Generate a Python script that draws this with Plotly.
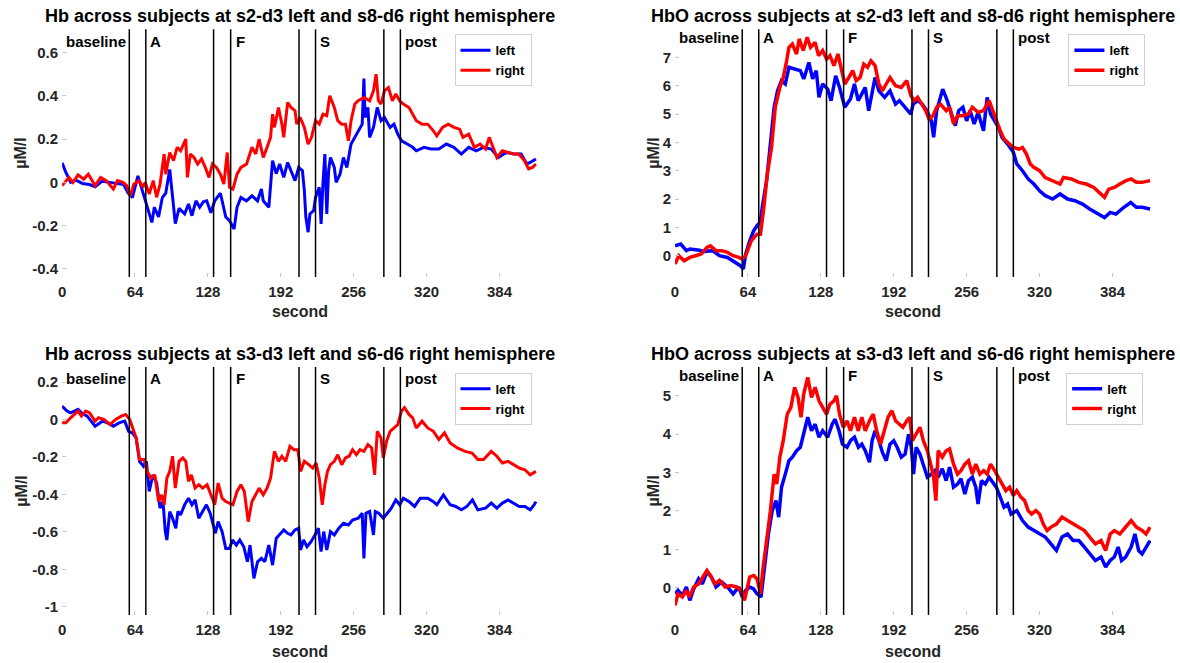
import plotly.graph_objects as go

# ---------------- data ----------------
xticks = [0, 64, 128, 192, 256, 320, 384]
phase_bounds = [59, 73.5, 133, 148, 208, 222.5, 282.5, 297]
phase_labels = ["baseline", "A", "F", "S", "post"]
phase_label_t = [1.5, 75.5, 150.5, 225, 299.5]

titles = [
    "Hb across subjects at s2-d3 left and s8-d6 right hemisphere",
    "HbO across subjects at s2-d3 left and s8-d6 right hemisphere",
    "Hb across subjects at s3-d3 left and s6-d6 right hemisphere",
    "HbO across subjects at s3-d3 left and s6-d6 right hemisphere",
]

# Panel 1: Hb, s2-d3 (left) / s8-d6 (right)
t_p1_left = [0, 3, 7.5, 12, 18, 24, 29, 35, 42, 48.6, 54, 58, 61.7, 66.6, 70, 75, 78.8, 81, 84.7, 88, 91, 94.5, 96, 99.4,
             102.7, 107.6, 111, 114, 117.5, 120.8, 124, 127, 130.6, 134, 139, 143.7, 147, 151, 153.6, 157, 161.8, 166.7,
             171.6, 175, 176.6, 181.5, 184.8, 188, 191, 194.6, 198, 201, 204.5, 207.7, 211, 212.7, 214, 216, 217.6,
             220.9, 222.5, 225.8, 227.4, 229, 230.7, 232.4, 234, 235.6, 239, 240.6, 244, 247, 250, 253.7, 257, 260,
             263.5, 265, 266, 268.5, 270, 273.4, 276.7, 280, 283, 288, 291.4, 294.7, 298, 303, 307.8, 311, 317.7, 324,
             330.8, 337.4, 344, 350.5, 357, 363.6, 370, 376.8, 383, 390, 396.7, 403, 408, 411, 416]
v_p1_left = [0.09, 0.05, 0.0, 0.01, -0.005, -0.01, -0.02, 0.005, 0.0, -0.005, -0.01, -0.05, -0.07, 0.03, -0.03, -0.115,
             -0.185, -0.115, -0.16, -0.07, -0.05, 0.06, -0.02, -0.19, -0.12, -0.145, -0.1, -0.154, -0.085, -0.115, -0.09,
             -0.085, -0.14, -0.085, -0.05, -0.16, -0.177, -0.215, -0.115, -0.07, -0.085, -0.062, -0.085, -0.03, -0.085,
             -0.115, 0.1, 0.04, 0.085, 0.023, 0.092, 0.054, 0.008, 0.069, 0.054, -0.038, -0.16, -0.23, -0.146, -0.13,
             -0.069, -0.023, -0.192, -0.008, 0.131, -0.146, 0.054, 0.115, 0.069, 0.0, 0.038, 0.115, 0.069, 0.177, 0.208,
             0.238, 0.269, 0.48, 0.3, 0.346, 0.208, 0.254, 0.346, 0.285, 0.3, 0.254, 0.269, 0.223, 0.192, 0.177, 0.162,
             0.146, 0.162, 0.154, 0.154, 0.177, 0.162, 0.131, 0.162, 0.146, 0.162, 0.154, 0.115, 0.138, 0.131, 0.131,
             0.085, 0.092, 0.108]
t_p1_right = [0, 2.6, 6, 9.5, 14, 19, 23, 29, 33.8, 38.7, 45, 48.6, 53.5, 56.8, 60, 63, 67.6, 71, 73, 76.5, 80, 83, 86,
              89.6, 91, 94.5, 97.8, 101, 104, 108.6, 110, 112.6, 115.8, 119, 122.4, 125.7, 129, 132, 135.5, 139, 142,
              145, 147, 150, 153.6, 157, 162, 166.7, 170, 173, 176.6, 180, 183, 184.8, 186.4, 190, 193, 194.6, 198, 201,
              204.5, 206, 209, 212.7, 216, 219, 222.5, 225.8, 229, 232.4, 235, 239, 242, 245.5, 248.8, 251.4, 253.7,
              257, 260, 265, 270, 273.4, 275.7, 277.7, 280, 283, 286.5, 290, 293, 296.4, 299.6, 304.6, 307.8, 311, 316,
              321, 326, 329, 334, 339, 344, 349, 352, 357, 362, 367, 371.8, 375, 378.4, 381.7, 386.6, 391.5, 396.5, 401,
              406, 409.6, 413, 416]
v_p1_right = [-0.015, 0.0, 0.023, 0.0, 0.035, 0.015, 0.038, -0.015, 0.023, 0.008, -0.031, 0.008, 0.0, -0.015, -0.062,
              -0.008, 0.008, -0.023, 0.0, -0.054, 0.008, -0.069, -0.008, 0.131, 0.038, 0.138, 0.1, 0.162, 0.146, 0.2,
              0.023, 0.131, 0.115, 0.085, 0.108, 0.069, 0.023, 0.085, 0.069, 0.038, -0.008, 0.138, -0.023, -0.031,
              0.038, 0.069, 0.085, 0.162, 0.131, 0.2, 0.115, 0.162, 0.208, 0.315, 0.254, 0.346, 0.269, 0.208, 0.369,
              0.346, 0.331, 0.269, 0.3, 0.254, 0.177, 0.208, 0.285, 0.269, 0.315, 0.308, 0.4, 0.346, 0.285, 0.269,
              0.269, 0.192, 0.285, 0.362, 0.377, 0.392, 0.377, 0.423, 0.5, 0.377, 0.362, 0.423, 0.438, 0.377, 0.408,
              0.377, 0.362, 0.346, 0.315, 0.285, 0.269, 0.269, 0.238, 0.215, 0.254, 0.269, 0.254, 0.246, 0.208, 0.223,
              0.162, 0.177, 0.154, 0.208, 0.162, 0.115, 0.146, 0.138, 0.131, 0.131, 0.1, 0.062, 0.069, 0.085]

# Panel 2: HbO, s2-d3 (left) / s8-d6 (right)
t_p2_left = [0, 5, 10, 13, 20, 26, 33, 39, 46, 52.5, 57.4, 60, 62, 65.6, 69, 72, 74.8, 77, 80.4, 83.7, 87, 90, 93.5,
             96.8, 100, 105, 110, 113, 117.5, 120.8, 124, 126.4, 129.6, 134, 137, 141, 144.4, 149, 154, 157.5, 160.8,
             164, 167, 170, 173, 175.6, 179, 184, 188.7, 193.6, 197, 202, 207, 209, 213, 217, 221, 225, 227, 229.7,
             233, 235, 239, 243, 246, 249, 252.7, 256, 259, 262.6, 266, 270.8, 274, 277, 280.6, 284, 287, 292, 297,
             300, 305, 310, 315, 320, 325, 331.5, 338, 344.6, 351, 357.7, 364, 371, 377, 382, 387, 394, 400, 405, 410,
             417]
v_p2_left = [0.35, 0.41, 0.18, 0.24, 0.2, 0.15, 0.18, 0.0, -0.06, -0.24, -0.35, -0.47, 0.06, 0.53, 0.88, 1.06, 1.18,
             1.82, 2.65, 3.94, 5.24, 5.82, 6.18, 6.06, 6.65, 6.59, 6.53, 6.24, 6.82, 6.24, 6.53, 5.59, 6.06, 5.88, 5.47,
             6.35, 5.94, 5.24, 5.53, 6.06, 5.47, 5.71, 5.94, 5.12, 5.82, 6.29, 5.82, 5.59, 5.82, 5.35, 5.47, 5.24, 5.0,
             5.35, 5.47, 5.35, 5.12, 4.76, 4.18, 5.12, 5.59, 5.88, 5.47, 5.0, 4.59, 5.12, 5.24, 4.76, 5.12, 4.65, 5.06,
             4.41, 5.59, 5.0, 4.76, 4.53, 4.18, 3.94, 3.65, 3.24, 3.0, 2.71, 2.53, 2.29, 2.12, 2.0, 2.18, 2.0, 1.94,
             1.82, 1.65, 1.47, 1.35, 1.53, 1.47, 1.71, 1.88, 1.71, 1.71, 1.65]
t_p2_right = [0, 3.3, 8, 13, 18, 23, 28, 31, 36, 41, 46, 51, 56, 59, 62, 67, 72, 75, 78, 81, 84.7, 88, 92, 95, 98, 100,
              103, 106.7, 109, 112.6, 116, 119, 123, 126, 129.6, 133, 136, 139.5, 143, 146, 149, 152.6, 156, 159,
              162.5, 165.7, 169, 172, 175.6, 179, 182, 185.4, 188.7, 193.6, 198.6, 203.5, 207, 210, 213, 216.6, 220,
              223, 226.5, 229.7, 233, 238, 241, 244.5, 248, 252.7, 257.6, 261, 266, 270.8, 275.7, 279, 282, 285.5,
              288.8, 292, 297, 302, 305, 308.5, 311.8, 315, 320, 325, 331.5, 338, 341, 348, 354.5, 361, 367.6, 372.5,
              377, 380.7, 385.6, 390.5, 396, 400.4, 405, 410, 417]
v_p2_right = [-0.29, 0.0, -0.18, -0.06, 0.0, 0.06, 0.29, 0.35, 0.18, 0.18, 0.12, 0.0, -0.06, -0.12, 0.0, 0.53, 0.76,
              0.76, 1.71, 2.88, 3.82, 5.24, 5.94, 6.29, 6.88, 7.35, 7.47, 7.12, 7.65, 7.24, 7.71, 7.35, 7.53, 7.06,
              7.24, 6.94, 7.06, 6.71, 7.12, 6.65, 6.06, 6.29, 6.53, 6.18, 6.29, 6.76, 6.65, 6.88, 6.71, 6.06, 5.82,
              6.06, 6.29, 6.0, 5.94, 6.18, 5.65, 5.47, 5.59, 5.35, 5.12, 4.82, 4.94, 5.24, 5.35, 5.12, 5.24, 4.65, 4.94,
              4.94, 5.0, 5.24, 5.06, 5.12, 5.47, 5.12, 4.76, 4.41, 4.12, 4.0, 3.82, 3.76, 3.82, 3.59, 3.24, 3.12, 3.0,
              2.76, 2.65, 2.53, 2.76, 2.71, 2.59, 2.53, 2.41, 2.24, 2.06, 2.35, 2.41, 2.53, 2.65, 2.71, 2.59, 2.59,
              2.65]

# Panel 3: Hb, s3-d3 (left) / s6-d6 (right)
t_p3_left = [0, 4.3, 7.5, 11, 14, 17, 22, 29, 35.4, 40, 45, 50, 55, 58.4, 61.7, 65, 68, 71.5, 74, 76.5, 79.7, 83, 86,
             88.6, 90.6, 92, 94.5, 97, 99.8, 101.7, 104, 107.6, 111, 114, 116.8, 120, 123.4, 126.7, 130, 132, 134.6,
             137, 140.5, 143.7, 147, 149.6, 153, 156, 159.5, 162.7, 165, 168.4, 171.6, 175, 178, 181.5, 184.8, 188,
             191, 194.6, 198, 201, 204.5, 207.7, 209.4, 212, 215, 218.6, 222, 225, 227.4, 229.7, 232.4, 235.6, 239,
             243, 247, 251.4, 255, 260, 263.5, 265, 266.8, 270, 273.4, 275, 278, 282, 285.5, 289, 293, 296.4, 299.6,
             304.6, 309.5, 314.4, 321, 326, 329, 334.8, 340.7, 345.6, 350.5, 355.4, 360.3, 365, 371.8, 376.8, 381.7,
             386.6, 391.5, 396.5, 401.4, 406.3, 411, 414.5, 416]
v_p3_left = [0.071, 0.045, 0.036, 0.045, 0.054, 0.036, 0.018, -0.036, -0.009, -0.018, -0.036, -0.018, -0.009, -0.063,
             -0.071, -0.098, -0.223, -0.25, -0.223, -0.384, -0.295, -0.339, -0.473, -0.438, -0.598, -0.643, -0.491,
             -0.527, -0.58, -0.491, -0.509, -0.455, -0.42, -0.455, -0.429, -0.527, -0.491, -0.455, -0.5, -0.545,
             -0.607, -0.545, -0.598, -0.688, -0.688, -0.643, -0.67, -0.643, -0.679, -0.759, -0.67, -0.848, -0.759,
             -0.741, -0.759, -0.67, -0.777, -0.634, -0.616, -0.589, -0.607, -0.616, -0.589, -0.58, -0.696, -0.643,
             -0.679, -0.652, -0.616, -0.58, -0.705, -0.598, -0.696, -0.598, -0.616, -0.58, -0.554, -0.563, -0.536,
             -0.527, -0.5, -0.741, -0.5, -0.491, -0.616, -0.491, -0.5, -0.527, -0.5, -0.473, -0.429, -0.455, -0.42,
             -0.438, -0.464, -0.42, -0.42, -0.438, -0.455, -0.402, -0.455, -0.464, -0.482, -0.464, -0.429, -0.482,
             -0.473, -0.446, -0.473, -0.446, -0.429, -0.446, -0.464, -0.464, -0.482, -0.455, -0.438]
t_p3_right = [0, 3.3, 7.5, 11, 14, 17, 20.7, 24, 29, 32, 37, 42, 47, 52, 55.8, 59.4, 62, 65, 68, 72, 74.8, 78, 81.4,
              84.7, 87.3, 89.6, 92, 94.5, 97, 99.4, 102.7, 106, 108.6, 111, 113.5, 116.8, 120, 123.4, 127.3, 130.6,
              134, 137, 140.5, 143.7, 147, 150, 153.6, 157, 160, 163.4, 166.7, 170, 173, 176.6, 180, 183, 186.4, 190,
              193, 196.3, 200, 203.5, 207, 209.4, 212.7, 216.6, 220, 223, 225.8, 228.4, 230.7, 233, 235.6, 239, 242,
              245.5, 248.8, 252, 255, 258.4, 261.6, 265, 268.5, 271.8, 274.4, 276.7, 280, 282, 284.9, 288, 291.4,
              294.7, 298, 300.6, 304.6, 307.8, 311, 316, 321, 326, 330.8, 335.7, 340.7, 347, 353.8, 360, 365, 370,
              376.8, 381.7, 386.6, 391.5, 396.5, 401.4, 406.3, 411, 416]
v_p3_right = [-0.018, -0.018, 0.009, 0.027, 0.045, 0.018, 0.045, 0.036, -0.009, 0.009, 0.0, -0.027, 0.0, 0.018, 0.027,
              0.0, -0.045, -0.098, -0.214, -0.214, -0.277, -0.313, -0.295, -0.438, -0.402, -0.455, -0.313, -0.277,
              -0.196, -0.366, -0.223, -0.205, -0.223, -0.33, -0.295, -0.366, -0.348, -0.366, -0.348, -0.402, -0.455,
              -0.339, -0.42, -0.438, -0.446, -0.455, -0.384, -0.348, -0.384, -0.545, -0.438, -0.402, -0.366, -0.402,
              -0.366, -0.313, -0.17, -0.223, -0.196, -0.223, -0.143, -0.161, -0.161, -0.277, -0.223, -0.241, -0.259,
              -0.232, -0.313, -0.455, -0.348, -0.277, -0.241, -0.223, -0.188, -0.241, -0.205, -0.196, -0.161, -0.188,
              -0.161, -0.17, -0.134, -0.152, -0.295, -0.063, -0.098, -0.205, -0.116, -0.063, -0.045, -0.027, 0.045,
              0.063, 0.027, 0.009, -0.045, -0.009, -0.045, -0.063, -0.107, -0.071, -0.125, -0.152, -0.17, -0.179,
              -0.214, -0.214, -0.17, -0.196, -0.232, -0.223, -0.241, -0.259, -0.268, -0.295, -0.277]

# Panel 4: HbO, s3-d3 (left) / s6-d6 (right)
t_p4_left = [0, 2.6, 6.5, 10, 13, 16.4, 20.7, 24, 28, 32, 36, 41, 46, 51, 56, 59, 62, 65.6, 69, 72, 75.5, 78.8, 82,
             85.3, 88.6, 91, 93.5, 96.8, 100, 103, 106.7, 110, 113, 116.5, 119.8, 123, 126.4, 129.6, 134, 138, 140.5,
             144, 147, 151, 154, 157.5, 161, 164, 167, 170.7, 173, 175.6, 179, 182, 185.4, 188.7, 192, 195, 198.6, 202,
             205, 207.4, 209.4, 211.7, 215, 218, 221.5, 225, 228, 231, 234.6, 238, 241, 244.5, 248, 251, 254.4, 257.6,
             261, 264, 266, 269, 272.4, 275.7, 279, 282, 285.5, 288.8, 292, 295, 300, 305, 310, 315, 320, 325, 330,
             334.8, 339.7, 344.6, 349.5, 354.5, 359.4, 364, 369, 374, 378, 382, 385.6, 389, 392, 395.5, 400.4, 403.7,
             407, 410, 413.5, 417]
v_p4_left = [-0.16, -0.07, -0.2, 0.02, -0.33, -0.03, 0.23, 0.1, 0.41, 0.28, 0.02, 0.15, 0.02, -0.16, 0.02, -0.24,
             -0.07, 0.02, -0.03, -0.16, -0.24, 0.62, 1.4, 2.0, 2.27, 1.84, 2.62, 2.96, 3.31, 3.4, 3.57, 3.66, 4.0, 4.44,
             4.09, 4.26, 3.92, 4.09, 3.92, 4.26, 4.39, 4.09, 3.74, 3.66, 3.83, 3.92, 3.66, 3.74, 3.57, 3.27, 3.83,
             4.09, 3.83, 3.53, 3.31, 3.74, 3.83, 3.66, 3.4, 3.48, 4.0, 3.66, 2.96, 3.66, 3.48, 3.22, 2.88, 2.96, 3.05,
             2.88, 3.1, 2.79, 3.14, 2.62, 2.7, 2.84, 2.44, 2.79, 2.88, 2.62, 2.18, 2.79, 2.7, 2.88, 2.75, 2.62, 2.36,
             2.1, 2.18, 1.92, 2.01, 1.75, 1.58, 1.49, 1.4, 1.32, 1.14, 0.97, 1.32, 1.4, 1.23, 1.23, 1.06, 0.88, 0.71,
             0.8, 0.54, 0.71, 0.8, 1.06, 0.71, 0.8, 1.06, 1.4, 0.97, 0.88, 1.06, 1.23]
t_p4_right = [0, 2.6, 6.5, 10, 12.5, 16.4, 20.7, 24.6, 28, 31, 35, 39, 44, 49, 54, 58.4, 61, 63, 65.6, 69, 72, 75, 77,
              80.4, 83.7, 87, 89.3, 92, 95, 98.5, 101.7, 105, 108, 110.6, 113, 116.5, 119.8, 123, 126.4, 129.6, 133,
              136, 139.5, 141.8, 144.4, 147.7, 151, 154, 157.5, 160.8, 164, 167, 170.7, 174, 177, 180.4, 184, 187,
              190.4, 193.6, 197, 200, 203.5, 206, 208.4, 211.7, 215, 218, 221.5, 225, 227, 229, 231, 234.6, 238, 241,
              244.5, 248, 251, 254.4, 257.6, 261, 264, 267.6, 271, 274, 277, 280.6, 284, 287, 290.4, 293.7, 297, 300,
              303.6, 306.9, 310, 313, 316.7, 320, 323.3, 326.6, 330, 334.8, 339.7, 344.6, 349.5, 354.5, 359.4, 364,
              369, 374, 378, 382, 385.6, 390.5, 395.5, 400.4, 405, 410, 413.5, 417]
v_p4_right = [-0.46, -0.16, -0.24, -0.07, -0.24, 0.02, 0.1, 0.28, 0.45, 0.32, 0.1, 0.19, 0.02, 0.06, 0.02, -0.07,
              -0.33, -0.07, 0.28, 0.32, 0.23, -0.16, 0.45, 1.23, 2.0, 2.96, 2.7, 3.4, 3.83, 4.52, 4.7, 5.22, 4.96, 4.44,
              5.05, 5.48, 4.96, 5.22, 4.87, 4.7, 4.52, 4.78, 4.87, 5.0, 4.52, 4.18, 4.35, 4.09, 4.44, 4.09, 4.44, 4.09,
              4.35, 4.52, 4.09, 3.74, 4.09, 4.44, 4.61, 4.35, 4.26, 4.18, 4.35, 4.44, 3.83, 4.0, 4.18, 3.83, 3.57, 3.14,
              2.88, 2.27, 3.57, 3.4, 3.57, 3.62, 3.22, 2.96, 3.05, 3.22, 3.31, 2.96, 3.22, 2.96, 3.05, 2.96, 3.22, 3.05,
              2.88, 2.7, 2.53, 2.62, 2.4, 2.53, 2.36, 2.27, 2.01, 1.92, 2.01, 1.92, 1.66, 1.49, 1.58, 1.66, 1.84, 1.75,
              1.66, 1.58, 1.49, 1.32, 1.14, 1.23, 0.97, 1.4, 1.49, 1.4, 1.58, 1.75, 1.58, 1.49, 1.4, 1.58]

yticks = [
    [-0.4, -0.2, 0, 0.2, 0.4, 0.6],
    [0, 1, 2, 3, 4, 5, 6, 7],
    [-1, -0.8, -0.6, -0.4, -0.2, 0, 0.2],
    [0, 1, 2, 3, 4, 5],
]
ytick_text = [
    ["-0.4", "-0.2", "0", "0.2", "0.4", "0.6"],
    ["0", "1", "2", "3", "4", "5", "6", "7"],
    ["-1", "-0.8", "-0.6", "-0.4", "-0.2", "0", "0.2"],
    ["0", "1", "2", "3", "4", "5"],
]
yranges = [[-0.437, 0.707], [-0.75, 7.99], [-1.043, 0.28], [-0.71, 5.75]]
xrange_ = [0, 418]

series = [
    (t_p1_left, v_p1_left, t_p1_right, v_p1_right),
    (t_p2_left, v_p2_left, t_p2_right, v_p2_right),
    (t_p3_left, v_p3_left, t_p3_right, v_p3_right),
    (t_p4_left, v_p4_left, t_p4_right, v_p4_right),
]

# ---------------- layout geometry (pixels of a 1180x663 page) ----------------
W, H = 1180, 663
col_px = [(58.3, 536.0), (673.3, 1151.1)]
row_px = [(29.3, 277.0), (367.0, 615.0)]
label_y_frac = [0.95, 0.968, 0.954, 0.966]
ylabel_x_px = [16.7, 651.7]
legend_right_px = [529.3, 1145.3, 529.3, 1143.0]
legend_top_px = [34.3, 34.3, 372.7, 372.7]
line_w = [3, 3.5, 3, 3.5]

FONT = "Liberation Sans, Arial, sans-serif"
BLUE, RED = "#0000FF", "#FF0000"

fig = go.Figure()
layout_axes = {}
annotations = []
shapes = []

for i in range(4):
    r, c = divmod(i, 2)
    x0p, x1p = col_px[c]
    ytop, ybot = row_px[r]
    sfx = "" if i == 0 else str(i + 1)
    xname, yname = "x" + sfx, "y" + sfx
    legname = "legend" + sfx

    tl, vl, tr, vr = series[i]
    fig.add_trace(go.Scatter(x=tl, y=vl, mode="lines", name="left",
                             line=dict(color=BLUE, width=line_w[i]), xaxis=xname, yaxis=yname,
                             legend=legname))
    fig.add_trace(go.Scatter(x=tr, y=vr, mode="lines", name="right",
                             line=dict(color=RED, width=line_w[i]), xaxis=xname, yaxis=yname,
                             legend=legname))

    layout_axes["xaxis" + sfx] = dict(
        domain=[x0p / W, x1p / W], anchor=yname, range=xrange_,
        tickmode="array", tickvals=xticks, ticktext=[str(v) for v in xticks],
        ticks="inside", ticklen=4, tickcolor="#c8c8c8", tickwidth=1,
        showline=False, showgrid=False, zeroline=False, ticklabelstandoff=4,
        tickfont=dict(family=FONT, size=15, color="#262626", weight="bold"),
    )
    layout_axes["yaxis" + sfx] = dict(
        domain=[1 - ybot / H, 1 - ytop / H], anchor=xname, range=yranges[i],
        tickmode="array", tickvals=yticks[i], ticktext=ytick_text[i],
        ticks="inside", ticklen=4, tickcolor="#c8c8c8", tickwidth=1,
        showline=False, showgrid=False, zeroline=False, ticklabelstandoff=3,
        tickfont=dict(family=FONT, size=15, color="#262626", weight="bold"),
    )

    layout_axes[legname] = dict(
        x=legend_right_px[i] / W, y=1 - legend_top_px[i] / H, xanchor="right", yanchor="top",
        bgcolor="white", bordercolor="#d0d0d0", borderwidth=1, itemwidth=30,
        tracegroupgap=0, font=dict(family=FONT, size=13, color="black", weight="bold"),
    )

    # phase boundaries
    for b in phase_bounds:
        shapes.append(dict(type="line", xref=xname, yref=yname + " domain", x0=b, x1=b, y0=0, y1=1,
                           line=dict(color="black", width=1.5)))
    # phase labels
    for lab, lt in zip(phase_labels, phase_label_t):
        annotations.append(dict(text=lab, xref=xname, yref=yname + " domain", x=lt, y=label_y_frac[i],
                                xanchor="left", yanchor="middle", showarrow=False,
                                font=dict(family=FONT, size=15, color="black", weight="bold")))
    # title
    cx = (x0p + x1p) / 2 / W
    annotations.append(dict(text=titles[i], xref="paper", yref="paper", x=cx,
                            y=1 - (16.0 if r == 0 else 354.0) / H, xanchor="center", yanchor="middle",
                            showarrow=False,
                            font=dict(family=FONT, size=18, color="black", weight="bold")))
    # x label
    annotations.append(dict(text="second", xref="paper", yref="paper", x=cx,
                            y=1 - (311.7 if r == 0 else 651.7) / H, xanchor="center", yanchor="middle",
                            showarrow=False,
                            font=dict(family=FONT, size=16, color="#262626", weight="bold")))
    # y label
    annotations.append(dict(text="µM/l", xref="paper", yref="paper", x=ylabel_x_px[c] / W,
                            y=1 - (ytop + ybot) / 2 / H, xanchor="center", yanchor="middle",
                            textangle=-90, showarrow=False,
                            font=dict(family=FONT, size=16, color="#262626", weight="bold")))

fig.update_layout(
    width=W, height=H, margin=dict(l=0, r=0, t=0, b=0),
    paper_bgcolor="white", plot_bgcolor="white",
    showlegend=True, annotations=annotations, shapes=shapes,
    **layout_axes,
)

fig.write_html("out.html")
